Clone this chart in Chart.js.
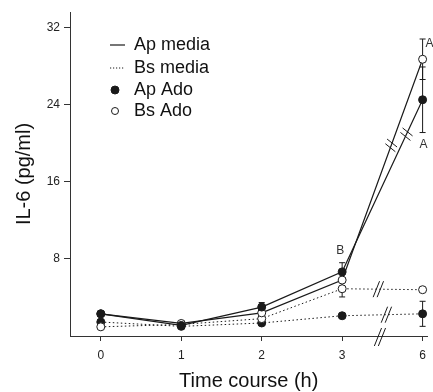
<!DOCTYPE html>
<html>
<head>
<meta charset="utf-8">
<script src="https://cdn.jsdelivr.net/npm/chart.js@4"></script>
<style>
  html, body { margin: 0; padding: 0; background: #fff; }
  #wrap { width: 433px; height: 392px; }
</style>
</head>
<body>
<div id="wrap"><canvas id="il6Chart" width="433" height="392"></canvas></div>
<script>
// time points (6 h is plotted one step after 3 h, axis is broken)
const timeLabels = ["0", "1", "2", "3", "6"];
const timeIdx = [0, 1, 2, 3, 4];
const yTicks = [8, 16, 24, 32];

// IL-6 (pg/ml)
const solidFilled = [2.3, 1.1, 3.0, 6.65, 24.5];
const solidOpen = [2.3, 1.3, 2.4, 5.8, 28.7];
const dottedOpen = [0.95, 1.2, 1.8, 4.9, 4.8];
const dottedFilled = [1.45, 1.0, 1.35, 2.1, 2.3];

// error bars (null = none drawn)
const errSolidFilled = [null, null, 0.47, 0.95, 3.4];
const errSolidOpen = [null, null, null, null, 2.1];
const errDottedOpen = [null, null, null, 0.85, null];
const errDottedFilled = [null, null, null, null, 1.3];

const legendLabels = ["Ap media", "Bs media", "Ap Ado", "Bs Ado"];

function toPoints(vals) {
    return vals.map(function (v, i) { return { x: timeIdx[i], y: v }; });
}

const ink = "#1a1a1a";

function makeSet(vals, errs, dotted, filled) {
    return {
        data: toPoints(vals),
        errs: errs,
        borderColor: ink,
        borderWidth: dotted ? 1 : 1.2,
        borderDash: dotted ? [1.5, 2.5] : [],
        pointRadius: 4,
        pointHoverRadius: 4,
        pointBorderWidth: 1,
        pointBorderColor: ink,
        pointBackgroundColor: filled ? ink : "#fff",
        tension: 0,
        clip: false
    };
}

// error bars
const errorBarPlugin = {
    id: "errorBars",
    beforeDatasetsDraw(chart) {
        const ctx = chart.ctx;
        const y = chart.scales.y;
        ctx.save();
        ctx.strokeStyle = ink;
        ctx.lineWidth = 1;
        chart.data.datasets.forEach(function (ds, d) {
            const meta = chart.getDatasetMeta(d);
            ds.errs.forEach(function (e, i) {
                if (e == null) return;
                const px = meta.data[i].x;
                const v = ds.data[i].y;
                const top = y.getPixelForValue(v + e);
                const bot = y.getPixelForValue(v - e);
                ctx.beginPath();
                ctx.moveTo(px, top); ctx.lineTo(px, bot);
                ctx.moveTo(px - 3, top); ctx.lineTo(px + 3, top);
                ctx.moveTo(px - 3, bot); ctx.lineTo(px + 3, bot);
                ctx.stroke();
            });
        });
        ctx.restore();
    }
};

// axis breaks, letters and legend
const extrasPlugin = {
    id: "extras",
    afterDatasetsDraw(chart) {
        const ctx = chart.ctx;
        const xs = chart.scales.x, ys = chart.scales.y;
        ctx.save();
        ctx.strokeStyle = ink;
        ctx.lineWidth = 1;

        function steep(cx, cy, h) {
            [-2, 2].forEach(function (o) {
                ctx.beginPath();
                ctx.moveTo(cx + o - h * 0.4, cy + h);
                ctx.lineTo(cx + o + h * 0.4, cy - h);
                ctx.stroke();
            });
        }
        function segPoint(d, t) {
            const m = chart.getDatasetMeta(d).data;
            return { x: m[3].x + (m[4].x - m[3].x) * t, y: m[3].y + (m[4].y - m[3].y) * t, a: m[3], b: m[4] };
        }
        // breaks on the dotted lines and the x axis
        const p2 = segPoint(2, 0.45);
        steep(p2.x, p2.y, 8);
        const p3 = segPoint(3, 0.55);
        steep(p3.x, p3.y, 8);
        steep(xs.getPixelForValue(3.47), ys.bottom + 1, 9);

        // breaks on the steep solid lines
        [[0, 0.8], [1, 0.61]].forEach(function (b) {
            const p = segPoint(b[0], b[1]);
            let dx = p.b.x - p.a.x, dy = p.b.y - p.a.y;
            const len = Math.hypot(dx, dy);
            dx /= len; dy /= len;
            [-2.5, 2.5].forEach(function (o) {
                const cx = p.x + dx * o, cy = p.y + dy * o;
                ctx.beginPath();
                ctx.moveTo(cx - 5, cy - 4);
                ctx.lineTo(cx + 5, cy + 4);
                ctx.stroke();
            });
        });

        // significance letters
        ctx.fillStyle = "#333";
        ctx.font = "12px 'Liberation Sans', Arial, sans-serif";
        ctx.textBaseline = "middle";
        ctx.textAlign = "center";
        const m0 = chart.getDatasetMeta(0).data, m1 = chart.getDatasetMeta(1).data;
        ctx.fillText("B", m0[3].x - 2, ys.getPixelForValue(solidFilled[3] + errSolidFilled[3]) - 12);
        ctx.fillText("A", m0[4].x + 1, ys.getPixelForValue(solidFilled[4] - errSolidFilled[4]) + 12);
        ctx.textAlign = "left";
        ctx.fillText("A", m1[4].x + 3, ys.getPixelForValue(solidOpen[4] + errSolidOpen[4]) + 5);

        // legend
        const lx = 110, tx = 134, rows = [45, 68, 90, 111];
        ctx.font = "18px 'Liberation Sans', Arial, sans-serif";
        ctx.fillStyle = "#111";
        legendLabels.forEach(function (lab, i) {
            const ry = rows[i];
            ctx.beginPath();
            if (i === 0) {
                ctx.setLineDash([]);
                ctx.lineWidth = 1.2;
                ctx.moveTo(lx, ry); ctx.lineTo(lx + 15, ry); ctx.stroke();
            } else if (i === 1) {
                ctx.setLineDash([1.2, 1.8]);
                ctx.lineWidth = 1;
                ctx.moveTo(lx, ry); ctx.lineTo(lx + 14, ry); ctx.stroke();
                ctx.setLineDash([]);
            } else {
                ctx.arc(lx + 5, ry, i === 2 ? 4 : 3.5, 0, Math.PI * 2);
                ctx.fillStyle = i === 2 ? ink : "#fff";
                ctx.fill();
                ctx.lineWidth = 1;
                ctx.stroke();
                ctx.fillStyle = "#111";
            }
            ctx.fillText(lab, tx, ry);
        });
        ctx.restore();
    }
};

new Chart("il6Chart", {
    type: "line",
    data: {
        datasets: [
            makeSet(solidFilled, errSolidFilled, false, true),
            makeSet(solidOpen, errSolidOpen, false, false),
            makeSet(dottedOpen, errDottedOpen, true, false),
            makeSet(dottedFilled, errDottedFilled, true, true)
        ]
    },
    options: {
        responsive: false,
        animation: false,
        events: [],
        layout: { padding: { top: 12, right: 3, left: 0, bottom: 0 } },
        plugins: { legend: { display: false }, tooltip: { enabled: false } },
        scales: {
            x: {
                type: "linear",
                min: -0.383,
                max: 4.06,
                afterBuildTicks: function (s) { s.ticks = timeIdx.map(function (v) { return { value: v }; }); },
                afterFit: function (s) { s.height = 56; },
                ticks: {
                    color: "#222",
                    font: { family: "'Liberation Sans', Arial, sans-serif", size: 12 },
                    padding: 7,
                    maxRotation: 0,
                    callback: function (v) { return timeLabels[timeIdx.indexOf(v)]; }
                },
                grid: { drawOnChartArea: false, drawTicks: true, tickLength: 5, color: "#333" },
                border: { display: true, color: "#333", width: 1 },
                title: {
                    display: true,
                    text: "Time course (h)",
                    color: "#111",
                    font: { family: "'Liberation Sans', Arial, sans-serif", size: 20, lineHeight: 1.1 },
                    padding: { top: 0, bottom: 0 }
                }
            },
            y: {
                min: 0,
                max: 33.6,
                afterBuildTicks: function (s) { s.ticks = yTicks.map(function (v) { return { value: v }; }); },
                afterFit: function (s) { s.width = 70; },
                ticks: {
                    color: "#222",
                    font: { family: "'Liberation Sans', Arial, sans-serif", size: 12 },
                    padding: 4
                },
                grid: { drawOnChartArea: false, drawTicks: true, tickLength: 6, color: "#333" },
                border: { display: true, color: "#333", width: 1 },
                title: {
                    display: true,
                    text: "IL-6 (pg/ml)",
                    color: "#111",
                    font: { family: "'Liberation Sans', Arial, sans-serif", size: 20 },
                    padding: { top: 12, bottom: 0 }
                }
            }
        }
    },
    plugins: [errorBarPlugin, extrasPlugin]
});
</script>
</body>
</html>
